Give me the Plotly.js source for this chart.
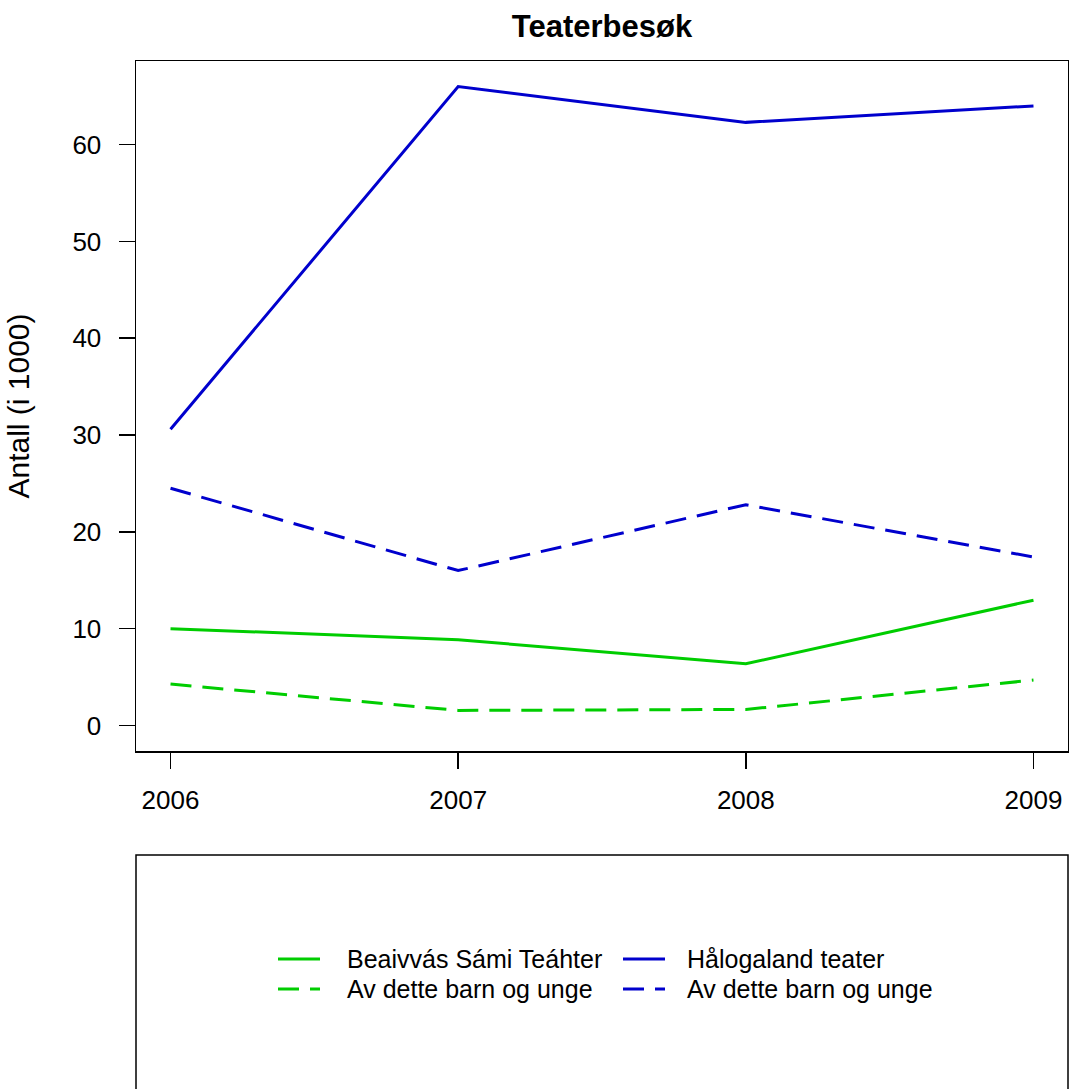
<!DOCTYPE html>
<html>
<head>
<meta charset="utf-8">
<script src="https://cdn.plot.ly/plotly-3.0.1.min.js"></script>
<style>html,body{margin:0;padding:0;background:#fff;}#chart{width:1069px;height:1089px;}</style>
</head>
<body>
<div id="chart"></div>
<script>
const years = [2006, 2007, 2008, 2009];
const beaivvas = [10.0, 8.85, 6.37, 12.94];
const beaivvasBarn = [4.27, 1.55, 1.65, 4.69];
const halogaland = [30.6, 66.0, 62.3, 64.0];
const halogalandBarn = [24.5, 16.0, 22.8, 17.4];
const yTicks = [0, 10, 20, 30, 40, 50, 60];
const seriesNames = ["Beaivvás Sámi Teáhter", "Av dette barn og unge", "Hålogaland teater", "Av dette barn og unge"];

const GREEN = "#00CD00", BLUE = "#0000CD";
const FONT = "Liberation Sans, Arial, Helvetica, sans-serif";
const DASH = "21px,11px";
const seriesStyle = [
  {color: GREEN, dash: "solid"},
  {color: GREEN, dash: DASH},
  {color: BLUE, dash: "solid"},
  {color: BLUE, dash: DASH}
];
const seriesValues = [beaivvas, beaivvasBarn, halogaland, halogalandBarn];

const traces = seriesValues.map((vals, i) => ({
  x: years, y: vals, name: seriesNames[i], mode: "lines", showlegend: false,
  line: {color: seriesStyle[i].color, width: 3, dash: seriesStyle[i].dash}
}));

// plot area geometry (pixels) for legend placement
const W = 1069, H = 1089, ML = 136, MR = 1, MT = 61, MB = 338;
const PW = W - ML - MR, PH = H - MT - MB;
const px = v => (v - ML) / PW;
const py = v => (H - MB - v) / PH;

// legend: 2 columns x 2 rows, drawn below the plot inside a frame
const legendCols = [{lineX0: 278, lineX1: 320, textX: 345}, {lineX0: 623, lineX1: 665, textX: 685}];
const legendRows = [959, 989];
const legendSlots = [[0, 0], [0, 1], [1, 0], [1, 1]]; // [col,row] for each series
const shapes = [
  {type: "rect", xref: "paper", yref: "paper", x0: 0, x1: 1, y0: py(855), y1: py(1200),
   line: {color: "#000", width: 1.5}, fillcolor: "rgba(0,0,0,0)", layer: "below"}
];
const annotations = [];
legendSlots.forEach(([c, r], i) => {
  const col = legendCols[c], yy = py(legendRows[r]);
  shapes.push({type: "line", xref: "paper", yref: "paper", x0: px(col.lineX0), x1: px(col.lineX1), y0: yy, y1: yy,
               line: {color: seriesStyle[i].color, width: 3, dash: seriesStyle[i].dash}});
  annotations.push({xref: "paper", yref: "paper", x: px(col.textX), y: yy, xanchor: "left", yanchor: "middle",
                    text: seriesNames[i], showarrow: false, font: {family: FONT, size: 25, color: "#000"}});
});

const layout = {
  width: W, height: H,
  paper_bgcolor: "#fff", plot_bgcolor: "#fff",
  margin: {l: ML, r: MR, t: MT, b: MB},
  font: {family: FONT, size: 26, color: "#000"},
  title: {text: "<b>Teaterbesøk</b>", font: {family: FONT, size: 31, color: "#000"},
          xref: "paper", x: 0.5, xanchor: "center", yref: "container", y: 1 - 26/1089, yanchor: "middle"},
  showlegend: false,
  xaxis: {
    range: [2005.88, 2009.12], tickmode: "array", tickvals: years, ticktext: years.map(String),
    showgrid: false, zeroline: false, showline: true, mirror: true, linecolor: "#000", linewidth: 1.5,
    ticks: "outside", ticklen: 16, tickwidth: 1.5, tickcolor: "#000",
    tickfont: {family: FONT, size: 26, color: "#000"}, ticklabelstandoff: 9
  },
  yaxis: {
    range: [-2.64, 68.64], tickmode: "array", tickvals: yTicks, ticktext: yTicks.map(String),
    showgrid: false, zeroline: false, showline: true, mirror: true, linecolor: "#000", linewidth: 1.5,
    ticks: "outside", ticklen: 16, tickwidth: 1.5, tickcolor: "#000",
    tickfont: {family: FONT, size: 26, color: "#000"}, ticklabelstandoff: 12,
    title: {text: "Antall (i 1000)", font: {family: FONT, size: 30, color: "#000"}, standoff: 34}
  },
  shapes: shapes,
  annotations: annotations
};

Plotly.newPlot("chart", traces, layout, {displayModeBar: false, staticPlot: true});
</script>
</body>
</html>
